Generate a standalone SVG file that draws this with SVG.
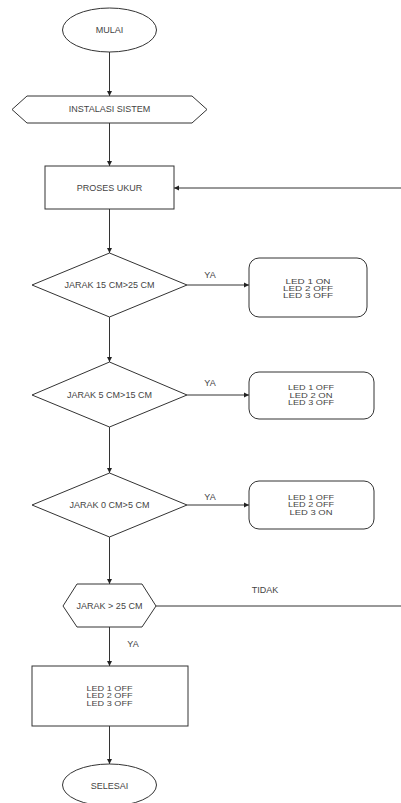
<svg xmlns="http://www.w3.org/2000/svg" width="401" height="803" viewBox="0 0 401 803">
<style>
.s{fill:#fff;stroke:#333;stroke-width:1}
.t{font-family:"Liberation Sans",Arial,sans-serif;font-size:9px;fill:#444;text-anchor:middle}
.m{font-family:"Liberation Sans",Arial,sans-serif;font-size:7.3px;fill:#444;text-anchor:middle}
.c{fill:none;stroke:#333;stroke-width:1}
.l{font-family:"Liberation Sans",Arial,sans-serif;font-size:9px;fill:#444;text-anchor:middle}
</style>
<defs>
<marker id="a" markerWidth="6" markerHeight="6" refX="5" refY="3" orient="auto" markerUnits="userSpaceOnUse">
<path d="M0,0.5 L5,3 L0,5.5 Z" fill="#222"/>
</marker>
</defs>
<rect width="401" height="803" fill="#fff"/>
<g id="connectors">
<line class="c" x1="109.5" y1="52" x2="109.5" y2="96" marker-end="url(#a)"/>
<line class="c" x1="109.5" y1="123" x2="109.5" y2="166" marker-end="url(#a)"/>
<line class="c" x1="401" y1="188" x2="174" y2="188" marker-end="url(#a)"/>
<line class="c" x1="109.5" y1="209" x2="109.5" y2="253" marker-end="url(#a)"/>
<line class="c" x1="187" y1="285" x2="249" y2="285" marker-end="url(#a)"/>
<line class="c" x1="109.5" y1="317" x2="109.5" y2="362" marker-end="url(#a)"/>
<line class="c" x1="187" y1="395" x2="249" y2="395" marker-end="url(#a)"/>
<line class="c" x1="109.5" y1="427" x2="109.5" y2="473" marker-end="url(#a)"/>
<line class="c" x1="187" y1="505" x2="249" y2="505" marker-end="url(#a)"/>
<line class="c" x1="109.5" y1="537" x2="109.5" y2="584" marker-end="url(#a)"/>
<line class="c" x1="156" y1="606" x2="401" y2="606"/>
<line class="c" x1="109.5" y1="627" x2="109.5" y2="666" marker-end="url(#a)"/>
<line class="c" x1="109.5" y1="726" x2="109.5" y2="764" marker-end="url(#a)"/>
<text class="l" x="210" y="278">YA</text>
<text class="l" x="210" y="386">YA</text>
<text class="l" x="210" y="500">YA</text>
<text class="l" x="265" y="593">TIDAK</text>
<text class="l" x="133" y="647">YA</text>
</g>
<g id="mulai">
<ellipse class="s" cx="109.5" cy="30" rx="47" ry="22"/>
<text class="t" x="109.5" y="33.2">MULAI</text>
</g>
<g id="instalasi">
<polygon class="s" points="12,109.5 27,96 192,96 207,109.5 192,123 27,123"/>
<text class="t" x="109.5" y="112.2">INSTALASI SISTEM</text>
</g>
<g id="proses">
<rect class="s" x="45" y="166" width="129" height="43"/>
<text class="t" x="109.5" y="191.2">PROSES UKUR</text>
</g>
<g id="d1">
<polygon class="s" points="109.5,253 187,285 109.5,317 32,285"/>
<text class="t" x="109.5" y="288.2">JARAK 15 CM&gt;25 CM</text>
</g>
<g id="led1">
<rect class="s" x="249" y="258" width="118" height="59" rx="10"/>
<text class="m" x="308" y="283.6" textLength="45" lengthAdjust="spacingAndGlyphs">LED  1 ON</text>
<text class="m" x="308" y="291" textLength="50" lengthAdjust="spacingAndGlyphs">LED 2 OFF</text>
<text class="m" x="308" y="298.4" textLength="50" lengthAdjust="spacingAndGlyphs">LED 3 OFF</text>
</g>
<g id="d2">
<polygon class="s" points="109.5,362 187,395 109.5,427 32,395"/>
<text class="t" x="109.5" y="398.2">JARAK 5 CM&gt;15 CM</text>
</g>
<g id="led2">
<rect class="s" x="249" y="372" width="125" height="47" rx="10"/>
<text class="m" x="311" y="390.4" textLength="46" lengthAdjust="spacingAndGlyphs">LED 1 OFF</text>
<text class="m" x="311" y="397.8" textLength="43" lengthAdjust="spacingAndGlyphs">LED 2 ON</text>
<text class="m" x="311" y="405.2" textLength="46" lengthAdjust="spacingAndGlyphs">LED 3 OFF</text>
</g>
<g id="d3">
<polygon class="s" points="109.5,473 187,505 109.5,537 32,505"/>
<text class="t" x="109.5" y="508.2">JARAK 0 CM&gt;5 CM</text>
</g>
<g id="led3">
<rect class="s" x="249" y="481" width="125" height="48" rx="10"/>
<text class="m" x="311" y="500" textLength="46" lengthAdjust="spacingAndGlyphs">LED 1 OFF</text>
<text class="m" x="311" y="507.4" textLength="46" lengthAdjust="spacingAndGlyphs">LED 2 OFF</text>
<text class="m" x="311" y="514.8" textLength="43" lengthAdjust="spacingAndGlyphs">LED 3 ON</text>
</g>
<g id="hex2">
<polygon class="s" points="63,606 77,584 142,584 156,606 142,627 77,627"/>
<text class="t" x="109.5" y="609.2">JARAK &gt; 25 CM</text>
</g>
<g id="ledoff">
<rect class="s" x="32" y="666" width="156" height="60"/>
<text class="m" x="109.5" y="690.9" textLength="46" lengthAdjust="spacingAndGlyphs">LED 1 OFF</text>
<text class="m" x="109.5" y="698.3" textLength="46" lengthAdjust="spacingAndGlyphs">LED 2 OFF</text>
<text class="m" x="109.5" y="705.7" textLength="46" lengthAdjust="spacingAndGlyphs">LED 3 OFF</text>
</g>
<g id="selesai">
<ellipse class="s" cx="109.5" cy="785" rx="47" ry="21"/>
<text class="t" x="109.5" y="788.9">SELESAI</text>
</g>
</svg>
